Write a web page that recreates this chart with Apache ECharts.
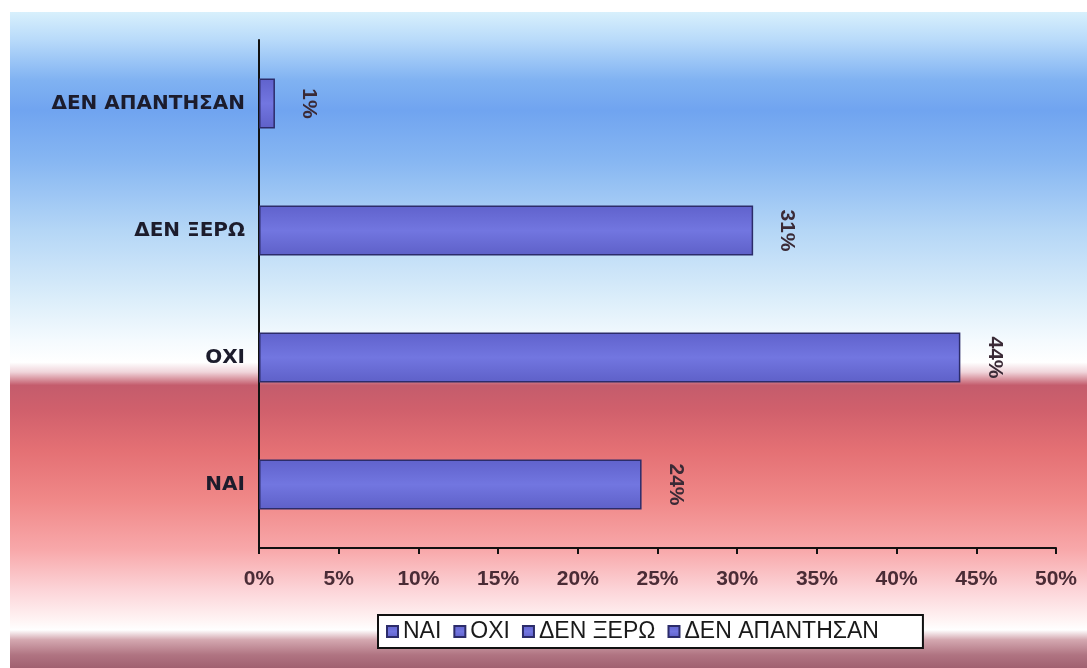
<!DOCTYPE html>
<html>
<head>
<meta charset="utf-8">
<script src="https://cdn.jsdelivr.net/npm/echarts@6/dist/echarts.min.js"></script>
<style>
  html, body { margin: 0; padding: 0; background: #ffffff; }
  #chart { width: 1087px; height: 668px; }
</style>
</head>
<body>
<div id="chart"></div>
<script>
// Survey answers, bottom to top on the category axis
const categories = ['ΝΑΙ', 'ΟΧΙ', 'ΔΕΝ ΞΕΡΩ', 'ΔΕΝ ΑΠΑΝΤΗΣΑΝ'];
const percentages = [24, 44, 31, 1];
const tickValues = [0, 5, 10, 15, 20, 25, 30, 35, 40, 45, 50];

const wideFont = 'DejaVu Sans, Verdana, sans-serif';
const arialFont = 'Liberation Sans, Arial, sans-serif';

const barFill = new echarts.graphic.LinearGradient(0, 0, 0, 1, [
  { offset: 0, color: '#6062cc' },
  { offset: 0.5, color: '#7276e0' },
  { offset: 1, color: '#5e60c8' }
]);

// One series per answer so the legend lists every answer; stacking keeps bars centred
const series = categories.map((name, i) => ({
  name: name,
  type: 'bar',
  stack: 'answers',
  barWidth: 50,
  data: percentages.map((v, j) => (j === i ? v : '-')),
  itemStyle: { color: barFill, borderColor: '#2c2c6a', borderWidth: 1.5 },
  label: {
    show: true,
    position: 'right',
    distance: 34,
    rotate: -90,
    align: 'center',
    verticalAlign: 'middle',
    formatter: '{c}%',
    fontFamily: arialFont,
    fontWeight: 'bold',
    fontSize: 21,
    color: '#3a2a36'
  }
}));

const chart = echarts.init(document.getElementById('chart'));
chart.setOption({
  animation: false,
  graphic: [{
    type: 'rect',
    z: -10,
    silent: true,
    shape: { x: 10, y: 12, width: 1077, height: 656 },
    style: {
      fill: new echarts.graphic.LinearGradient(0, 0, 0, 1, [
        { offset: 0.000, color: '#d8f0fc' },
        { offset: 0.043, color: '#b8dafa' },
        { offset: 0.104, color: '#80b2f2' },
        { offset: 0.150, color: '#70a4f0' },
        { offset: 0.226, color: '#86b6f2' },
        { offset: 0.332, color: '#b4d6f6' },
        { offset: 0.439, color: '#dceefa' },
        { offset: 0.500, color: '#f4fafe' },
        { offset: 0.534, color: '#ffffff' },
        { offset: 0.549, color: '#f0d4da' },
        { offset: 0.569, color: '#c45c6c' },
        { offset: 0.607, color: '#d0606c' },
        { offset: 0.668, color: '#e47074' },
        { offset: 0.744, color: '#f08888' },
        { offset: 0.820, color: '#f8a8aa' },
        { offset: 0.881, color: '#fcd4d8' },
        { offset: 0.927, color: '#fff4f4' },
        { offset: 0.942, color: '#ffffff' },
        { offset: 0.957, color: '#d4a8b0' },
        { offset: 0.980, color: '#b07482' },
        { offset: 1.000, color: '#a06070' }
      ])
    }
  }],
  grid: { left: 259, right: 31, top: 40, bottom: 120, containLabel: false },
  legend: {
    data: categories,
    left: 378,
    top: 615,
    orient: 'horizontal',
    icon: 'rect',
    itemWidth: 11,
    itemHeight: 11,
    itemGap: 12,
    padding: [5, 44, 5, 8],
    backgroundColor: '#ffffff',
    borderColor: '#111111',
    borderWidth: 2,
    borderRadius: 0,
    textStyle: {
      fontFamily: arialFont,
      fontSize: 23,
      color: '#1a1a1a'
    }
  },
  xAxis: {
    type: 'value',
    min: tickValues[0],
    max: tickValues[tickValues.length - 1],
    interval: tickValues[1] - tickValues[0],
    axisLine: { show: true, lineStyle: { color: '#111111', width: 2 } },
    axisTick: { show: true, length: 6, lineStyle: { color: '#111111', width: 2 } },
    splitLine: { show: false },
    axisLabel: {
      formatter: '{value}%',
      margin: 21,
      fontFamily: arialFont,
      fontWeight: 'bold',
      fontSize: 21,
      color: '#4a2c36'
    }
  },
  yAxis: {
    type: 'category',
    data: categories,
    axisLine: { show: true, lineStyle: { color: '#111111', width: 2 } },
    axisTick: { show: false },
    splitLine: { show: false },
    axisLabel: {
      margin: 14,
      fontFamily: wideFont,
      fontWeight: 'bold',
      fontSize: 20,
      color: '#1c1c2c'
    }
  },
  series: series
});
</script>
</body>
</html>
